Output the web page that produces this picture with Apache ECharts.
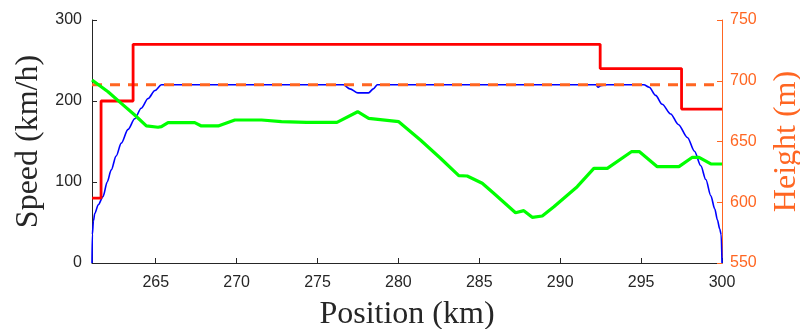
<!DOCTYPE html>
<html>
<head>
<meta charset="utf-8">
<script src="https://cdn.jsdelivr.net/npm/echarts@6/dist/echarts.min.js"></script>
<style>html,body{margin:0;padding:0;background:#fff}#c{width:800px;height:329px}</style>
</head>
<body>
<div id="c"></div>
<script>
// Position ticks (km)
const xTicks = [265, 270, 275, 280, 285, 290, 295, 300];
const xMin = 261.06, xMax = 300;

// Speed limit (red step), km/h
const limitPos = [261.06, 261.62, 261.62, 263.6, 263.6, 292.47, 292.47, 297.5, 297.5, 300];
const limitVal = [80, 80, 200, 200, 270, 270, 240, 240, 190, 190];

// Target speed (orange dashed), km/h
const targetPos = [261.06, 300];
const targetVal = [220, 220];

// Train speed (blue), km/h
const speedPos = [261.06, 261.08, 261.15, 261.23, 261.45, 261.74, 262.0, 262.25, 262.55, 262.87, 263.29, 263.7, 264.1, 264.53, 264.95, 265.35,
  276.6, 277.0, 277.5, 278.15, 278.45, 278.7, 292.2, 292.35, 292.5, 292.9,
  295.17, 295.5, 295.9, 296.3, 296.83, 297.3, 297.86, 298.3, 298.69, 299.0, 299.31, 299.55, 299.72, 299.86, 299.95, 300];
const speedVal = [0, 35, 52, 61, 72, 82, 100, 115, 132, 148, 165, 178, 191, 203, 213, 220,
  220, 215, 210, 210, 215, 220, 220, 217, 219, 220,
  220, 217, 207, 196, 184, 171, 155, 138, 120, 103, 83, 67, 53, 42, 35, 0];

// Track height (green), m
const heightPos = [261.06, 262.05, 262.87, 263.7, 264.42, 265.14, 265.35, 265.76, 267.41, 267.82, 268.86, 269.89, 271.54, 272.77,
  274.32, 276.2, 277.48, 278.16, 280.02, 281.36, 282.6, 283.73, 284.25, 285.18, 285.89, 287.24, 287.75, 288.27, 288.89,
  289.61, 291.05, 292.08, 292.91, 294.4, 294.9, 296.0, 297.34, 298.17, 298.58, 299.31, 300];
const heightVal = [700.6, 691, 681.4, 671.8, 662.8, 661.7, 662.2, 665.5, 665.5, 662.8, 662.8, 667.7, 667.7, 666.3,
  665.8, 665.8, 674.5, 669.1, 666.3, 651.2, 636.2, 621.9, 621.6, 615.6, 607.4, 591.4, 593.1, 587.6, 588.7,
  596.3, 612.8, 627.9, 627.9, 641.6, 641.6, 629.3, 629.3, 637, 637, 631.5, 631.5];

const zip = (a, b) => a.map((v, i) => [v, b[i]]);
const ORANGE = '#FF6622';
const TICKC = '#262626';
const serif = '"Liberation Serif", "DejaVu Serif", serif';
const sans = '"Liberation Sans", Arial, sans-serif';

const chart = echarts.init(document.getElementById('c'), null, {renderer: 'canvas'});
chart.setOption({
  animation: false,
  grid: {left: 92, right: 78, top: 20, bottom: 66, containLabel: false, outerBoundsMode: 'none'},
  xAxis: {
    type: 'value', min: xMin, max: xMax,
    name: 'Position (km)', nameLocation: 'middle', nameGap: 36,
    nameTextStyle: {fontFamily: serif, fontSize: 32, color: TICKC},
    axisLine: {show: true, lineStyle: {color: TICKC, width: 1}},
    axisTick: {show: true, inside: true, length: 5, customValues: xTicks, lineStyle: {color: TICKC}},
    axisLabel: {customValues: xTicks, fontFamily: sans, fontSize: 16, color: TICKC, margin: 12},
    splitLine: {show: false}
  },
  yAxis: [{
    type: 'value', min: 0, max: 300, interval: 100, position: 'left',
    name: 'Speed (km/h)', nameLocation: 'middle', nameGap: 47, nameRotate: 90,
    nameTextStyle: {fontFamily: serif, fontSize: 32, color: TICKC},
    axisLine: {show: true, lineStyle: {color: TICKC, width: 1}},
    axisTick: {show: true, inside: true, length: 5, lineStyle: {color: TICKC}},
    axisLabel: {fontFamily: sans, fontSize: 16, color: TICKC, margin: 10},
    splitLine: {show: false}
  }, {
    type: 'value', min: 550, max: 750, interval: 50, position: 'right',
    name: 'Height (m)', nameLocation: 'middle', nameGap: 49, nameRotate: 90,
    nameTextStyle: {fontFamily: serif, fontSize: 32, color: ORANGE},
    axisLine: {show: true, lineStyle: {color: ORANGE, width: 1}},
    axisTick: {show: true, inside: true, length: 5, lineStyle: {color: ORANGE}},
    axisLabel: {fontFamily: sans, fontSize: 16, color: ORANGE, margin: 8},
    splitLine: {show: false}
  }],
  series: [
    {type: 'line', name: 'speed', yAxisIndex: 0, data: zip(speedPos, speedVal), showSymbol: false,
      smooth: 0.3, smoothMonotone: 'x',
      lineStyle: {color: '#0000FF', width: 1.6}, z: 2},
    {type: 'line', name: 'target', yAxisIndex: 0, data: zip(targetPos, targetVal), showSymbol: false,
      lineStyle: {color: ORANGE, width: 3, type: [10, 8]}, z: 3},
    {type: 'line', name: 'limit', yAxisIndex: 0, data: zip(limitPos, limitVal), showSymbol: false,
      lineStyle: {color: '#FF0000', width: 2.8}, z: 4},
    {type: 'line', name: 'height', yAxisIndex: 1, data: zip(heightPos, heightVal), showSymbol: false,
      lineStyle: {color: '#00FF00', width: 3.2}, z: 5}
  ]
});
</script>
</body>
</html>
